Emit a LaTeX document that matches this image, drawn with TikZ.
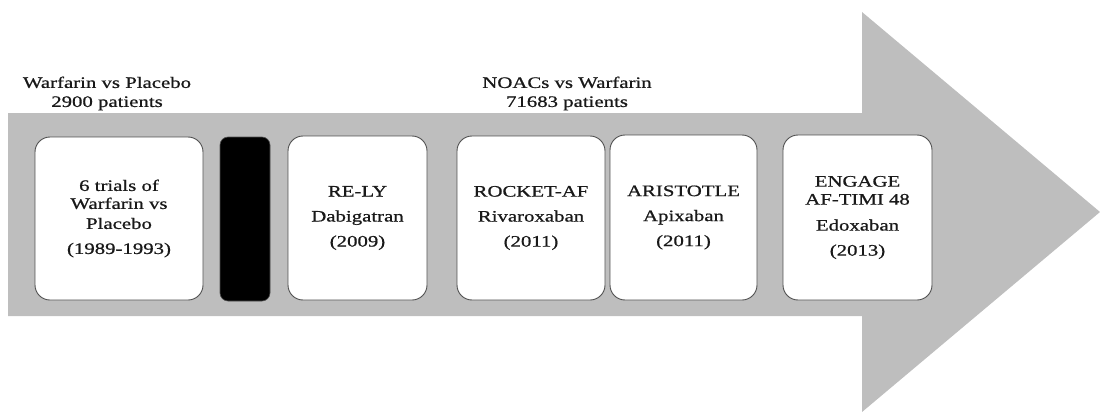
\documentclass[tikz,border=0pt]{standalone}
\usepackage{fontspec}
\setmainfont{Liberation Serif}[FakeStretch=1.3,FakeBold=0.8]
\definecolor{shaft}{RGB}{190,190,190}
\definecolor{edge}{RGB}{80,80,80}
\definecolor{ink}{RGB}{25,25,25}
\tikzset{
  trialbox/.style={draw=edge, line width=0.9pt, fill=white, rounded corners=15pt,
    inner sep=0pt, align=center, text=ink, font=\fontsize{16}{17}\selectfont},
  gapbox/.style={draw=edge, line width=0.6pt, fill=black, rounded corners=8pt, inner sep=0pt},
  heading/.style={align=center, text=ink, inner sep=0pt, font=\fontsize{16}{19}\selectfont}
}
\begin{document}
\begin{tikzpicture}[x=1pt,y=-1pt]
\useasboundingbox (0,0) rectangle (1100,412);
\fill[shaft] (8,113) -- (862,113) -- (862,12) -- (1100,212) -- (862,412) -- (862,316) -- (8,316) -- cycle;
\node[heading] (h1) at (107,93.5) {Warfarin vs Placebo\\2900 patients};
\node[heading] (h2) at (567,93.5) {NOACs vs Warfarin\\71683 patients};
\node[trialbox, minimum width=168pt, minimum height=163pt] (b1) at (119,218.5)
  {6 trials of\\[1pt]Warfarin vs\\[3pt]Placebo\\[8pt](1989-1993)};
\node[gapbox, minimum width=50pt, minimum height=164pt] (gap) at (245,219) {};
\node[trialbox, minimum width=139pt, minimum height=164pt] (b2) at (357.5,218)
  {RE-LY\\[8pt]Dabigatran\\[8pt](2009)};
\node[trialbox, minimum width=148pt, minimum height=164pt] (b3) at (531,218)
  {ROCKET-AF\\[8pt]Rivaroxaban\\[8pt](2011)};
\node[trialbox, minimum width=147pt, minimum height=165pt] (b4) at (683.5,217.5)
  {ARISTOTLE\\[8pt]Apixaban\\[8pt](2011)};
\node[trialbox, minimum width=149pt, minimum height=165pt] (b5) at (857.5,217.5)
  {ENGAGE\\[1pt]AF-TIMI 48\\[9pt]Edoxaban\\[8pt](2013)};
\end{tikzpicture}
\end{document}
